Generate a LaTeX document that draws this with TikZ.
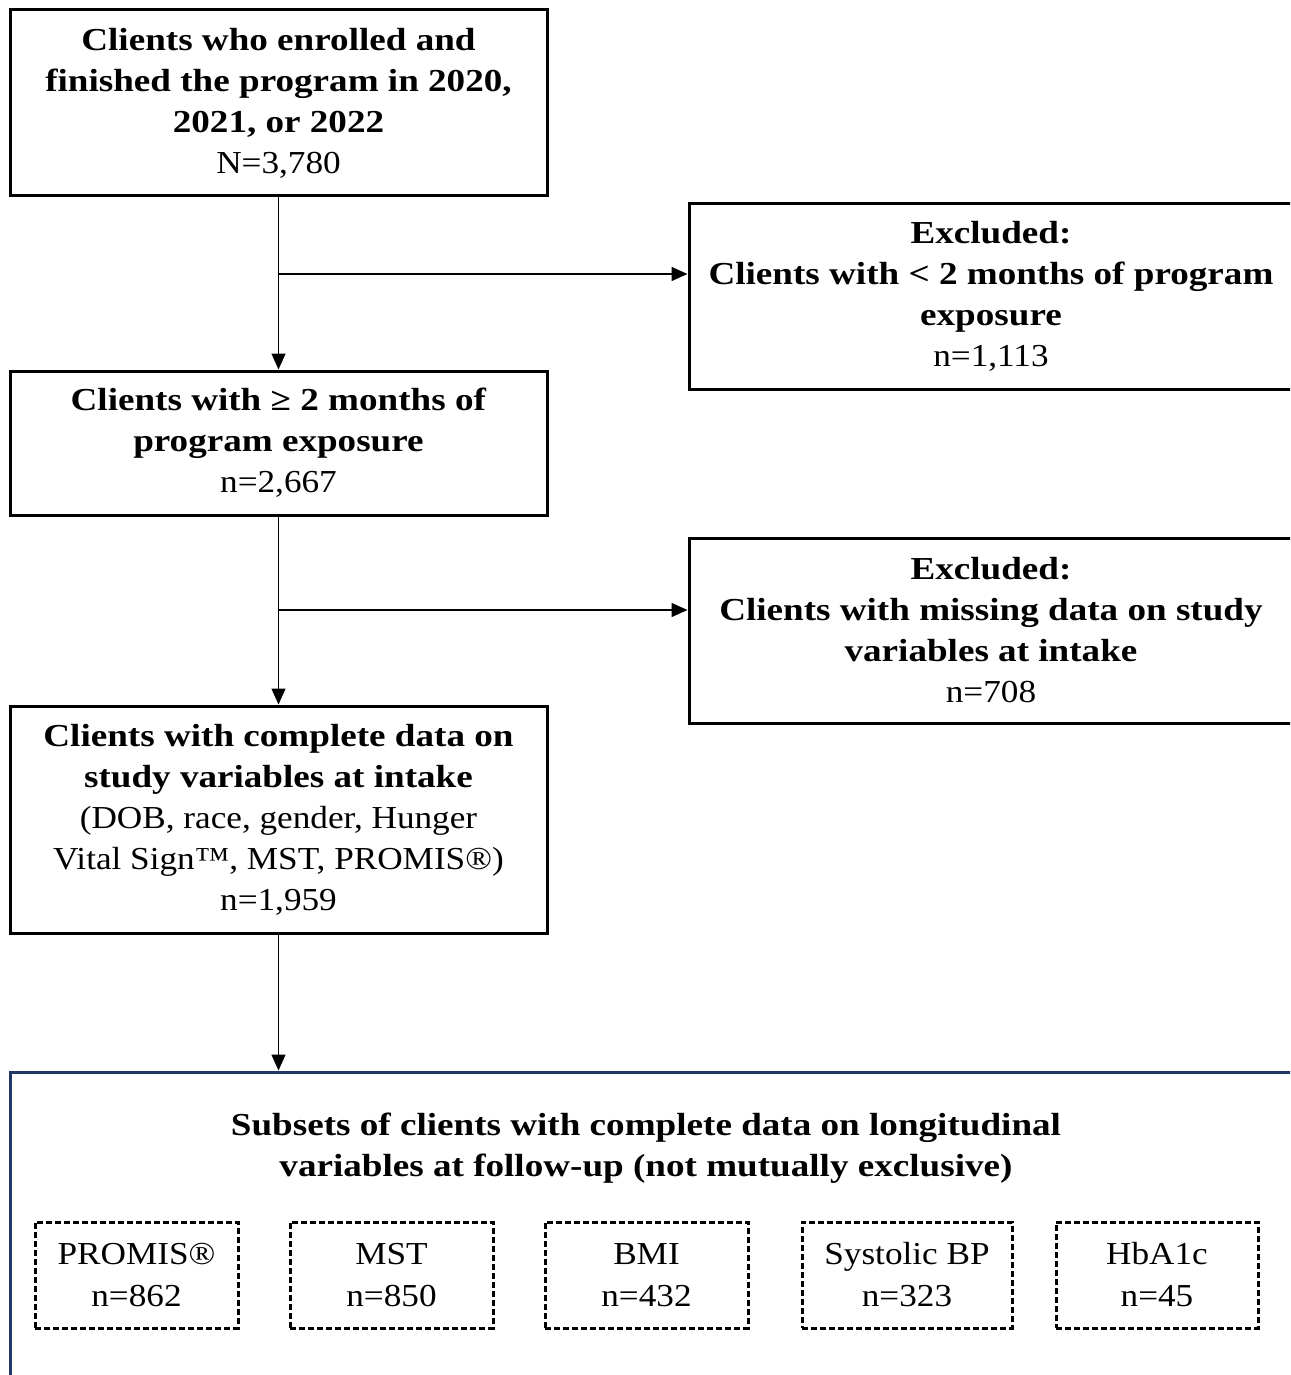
\documentclass[tikz,border=0pt]{standalone}
\usepackage{fontspec}
\setmainfont[FakeStretch=1.1, BoldFeatures={FakeStretch=1.16}]{Liberation Serif}
\usetikzlibrary{arrows.meta}
\definecolor{navy}{HTML}{203864}
\tikzset{
  box/.style={draw, line width=3pt, inner sep=0pt, align=center,
    font=\fontsize{32}{41}\selectfont},
  subbox/.style={draw, dash pattern=on 6pt off 3pt, line width=3pt,
    inner sep=0pt, align=center, minimum height=106pt, font=\fontsize{32}{42}\selectfont},
  conn/.style={line width=1.5pt, -{Triangle[length=16pt,width=14pt]}},
}
\begin{document}
\begin{tikzpicture}[x=1pt,y=-1pt]
\clip (0,0) rectangle (1290,1375);
\fill[white] (0,0) rectangle (1290,1375);

\node[box, minimum width=537pt, minimum height=186pt] (b1) at (278.5,103)
 {\textbf{Clients who enrolled and}\\\textbf{finished the program in 2020,}\\\textbf{2021, or 2022}\\N=3,780};

\node[box, minimum width=604pt, minimum height=186pt] (ex1) at (991,296)
 {\textbf{Excluded:}\\\textbf{Clients with < 2 months of program}\\\textbf{exposure}\\n=1,113};

\node[box, minimum width=537pt, minimum height=144pt] (b2) at (278.5,443)
 {\textbf{Clients with ≥ 2 months of}\\\textbf{program exposure}\\n=2,667};

\node[box, minimum width=604pt, minimum height=185pt] (ex2) at (991,630.5)
 {\textbf{Excluded:}\\\textbf{Clients with missing data on study}\\\textbf{variables at intake}\\n=708};

\node[box, minimum width=537pt, minimum height=227pt] (b3) at (278.5,819.5)
 {\textbf{Clients with complete data on}\\\textbf{study variables at intake}\\(DOB, race, gender, Hunger\\Vital Sign™, MST, PROMIS®)\\n=1,959};

\node[draw=navy, line width=3pt, minimum width=1284pt, minimum height=310pt, inner sep=0pt] (bot) at (652,1227) {};

\node[align=center, inner sep=0pt, font=\fontsize{32}{41}\selectfont\bfseries] (title) at (646,1148)
 {Subsets of clients with complete data on longitudinal\\variables at follow-up (not mutually exclusive)};

\node[subbox, minimum width=203pt] (s1) at (136.5,1275) {PROMIS®\\n=862};
\node[subbox, minimum width=203pt] (s2) at (391.5,1275) {MST\\n=850};
\node[subbox, minimum width=203pt] (s3) at (646.5,1275) {BMI\\n=432};
\node[subbox, minimum width=210pt] (s4) at (907,1275) {Systolic BP\\n=323};
\node[subbox, minimum width=202pt] (s5) at (1157,1275) {HbA1c\\n=45};

\coordinate (br1) at (279,274);
\coordinate (br2) at (279,610);

\draw[conn] (b1.south) -- (b2.north);
\draw[conn] (br1) -- (br1 -| ex1.west);
\draw[conn] (b2.south) -- (b3.north);
\draw[conn] (br2) -- (br2 -| ex2.west);
\draw[conn] (b3.south) -- (b3.south |- bot.north);
\end{tikzpicture}
\end{document}
